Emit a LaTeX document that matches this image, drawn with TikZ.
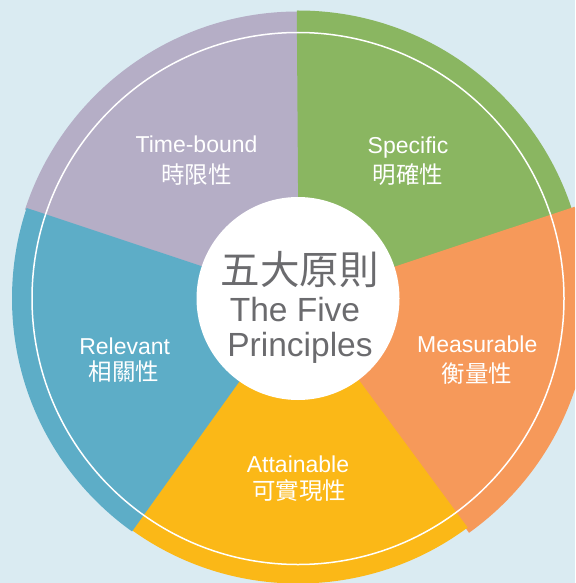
\documentclass[tikz,border=0pt]{standalone}
\usepackage{fontspec}
\setmainfont{Liberation Sans}
\newfontfamily\cjk{Noto Sans CJK TC}
\definecolor{bgc}{HTML}{DAEBF2}
\definecolor{cpurple}{HTML}{B5AEC6}
\definecolor{cgreen}{HTML}{8AB661}
\definecolor{corange}{HTML}{F6995A}
\definecolor{cyellow}{HTML}{FBB817}
\definecolor{cblue}{HTML}{5DADC7}
\definecolor{cgray}{HTML}{6B6B6E}
\newcommand\pieslice[5]{%
  \begin{scope}
    \clip (A) -- +(#1:420) -- +(#2:420) -- cycle;
    \fill[#3] #4 circle[radius=#5];
  \end{scope}}
\tikzset{
  lat/.style={text=white, font=\fontsize{23}{27}\selectfont, anchor=base, inner sep=0pt},
  han/.style={text=white, font=\cjk\fontsize{23.5}{28}\selectfont, anchor=center, inner sep=0pt},
  midlat/.style={text=cgray, font=\fontsize{33.5}{40}\selectfont, anchor=base, inner sep=0pt},
  midhan/.style={text=cgray, font=\cjk\fontsize{39.5}{44}\selectfont, anchor=center, inner sep=0pt},
}
\begin{document}
\begin{tikzpicture}[x=1pt,y=-1pt]
\useasboundingbox (0,0) rectangle (575,583);
\fill[bgc] (0,0) rectangle (575,583);
\clip (0,0) rectangle (575,583);
\coordinate (O) at (298,298.5);
\coordinate (A) at (298.8,298.5);
% sectors
\pieslice{-162}{-90}{cpurple}{(O)}{287}
\pieslice{-90.4}{-18}{cgreen}{(O)}{288}
\pieslice{-18.4}{54}{corange}{(301.5,298.5)}{288}
\pieslice{53.6}{126}{cyellow}{(O)}{285}
\pieslice{125.6}{198.4}{cblue}{(O)}{286}
% ring and centre disc
\draw[white, line width=1.5] (O) circle[radius=266];
\fill[white] (O) circle[radius=101.5];
% labels
\node[lat] (tb1) at (196.5,152.7) {Time-bound};
\node[han] (tb2) at (196.5,175) {時限性};
\node[lat] (sp1) at (408,153) {Specific};
\node[han] (sp2) at (408,174.8) {明確性};
\node[lat] (re1) at (124.7,354) {Relevant};
\node[han] (re2) at (124,372) {相關性};
\node[lat] (me1) at (477.3,352.5) {Measurable};
\node[han] (me2) at (477,373.7) {衡量性};
\node[lat] (at1) at (298,472) {Attainable};
\node[han] (at2) at (299,491) {可實現性};
% centre text
\node[midhan] (c1) at (299.5,269.6) {五大原則};
\node[midlat] (c2) at (295,321.7) {The Five};
\node[midlat] (c3) at (300,356.5) {Principles};
\end{tikzpicture}
\end{document}
